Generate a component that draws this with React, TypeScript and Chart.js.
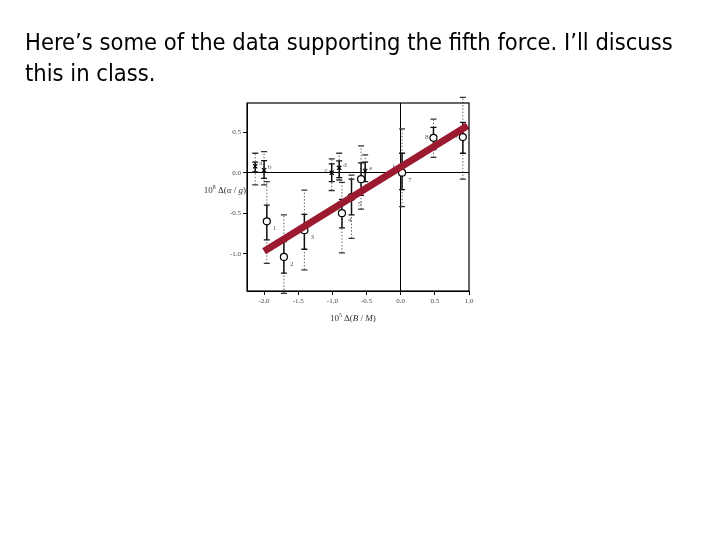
import React, { useEffect, useRef } from "react";
import { Chart, registerables } from "chart.js";

Chart.register(...registerables);

// ---- data ----
const X_TICKS = [-2.0, -1.5, -1.0, -0.5, 0.0, 0.5, 1.0];
const Y_TICKS = [-1.0, -0.5, 0.0, 0.5];

// numbered measurements (open circles)
const P_LABELS = ["1", "2", "3", "4", "5'", "", "7", "8", "9"];
const P_X = [-1.96, -1.71, -1.41, -0.86, -0.72, -0.58, 0.02, 0.48, 0.91];
const P_Y = [-0.6, -1.04, -0.71, -0.5, -0.3, -0.08, 0.0, 0.43, 0.44];
const P_SOLID_HI = [-0.4, -0.85, -0.515, -0.33, -0.08, 0.12, 0.24, 0.56, 0.62];
const P_SOLID_LO = [-0.83, -1.24, -0.945, -0.68, -0.52, -0.28, -0.21, 0.285, 0.24];
const P_DOT_HI = [-0.11, -0.52, -0.215, -0.12, -0.03, 0.33, 0.54, 0.66, 0.93];
const P_DOT_LO = [-1.12, -1.49, -1.2, -0.99, -0.81, -0.45, -0.42, 0.19, -0.08];

// lettered measurements (crosses)
const C_LABELS = ["a", "b", "c", "d", "e", "f"];
const C_X = [-2.13, -2.0, -1.01, -0.9, -0.52, -0.03];
const C_Y = [0.08, 0.03, 0.0, 0.06, 0.02, 0.03];
const C_SOLID_HI = [0.13, 0.15, 0.11, 0.145, 0.13, 0.03];
const C_SOLID_LO = [0.01, -0.07, -0.11, -0.06, -0.11, 0.03];
const C_DOT_HI = [0.24, 0.26, 0.17, 0.24, 0.22, 0.03];
const C_DOT_LO = [-0.15, -0.15, -0.22, -0.09, -0.2, 0.03];

// fitted line
const FIT_X = [-2.0, 0.98];
const FIT_Y = [-0.97, 0.58];

const LEFT_LABELS = ["c", "f", "8", "9"];

type Seg = { t: string; italic?: boolean; sup?: boolean };

function drawRich(ctx: CanvasRenderingContext2D, segs: Seg[], x: number, y: number, size: number, align: "left" | "right" | "center") {
  const fam = "'Liberation Serif', serif";
  const fontFor = (s: Seg) => `${s.italic ? "italic " : ""}${s.sup ? size * 0.65 : size}px ${fam}`;
  let total = 0;
  for (const s of segs) {
    ctx.font = fontFor(s);
    total += ctx.measureText(s.t).width;
  }
  let cx = align === "left" ? x : align === "right" ? x - total : x - total / 2;
  ctx.textAlign = "left";
  ctx.textBaseline = "alphabetic";
  for (const s of segs) {
    ctx.font = fontFor(s);
    ctx.fillText(s.t, cx, s.sup ? y - size * 0.4 : y);
    cx += ctx.measureText(s.t).width;
  }
}

const extrasPlugin = {
  id: "extras",
  beforeDatasetsDraw(chart: any) {
    const ctx: CanvasRenderingContext2D = chart.ctx;
    const xs = chart.scales.x;
    const ys = chart.scales.y;
    const bar = (x: number, lo: number, hi: number, dotted: boolean) => {
      if (lo === hi) return;
      const px = xs.getPixelForValue(x);
      const p1 = ys.getPixelForValue(lo);
      const p2 = ys.getPixelForValue(hi);
      ctx.save();
      ctx.strokeStyle = dotted ? "#666" : "#111";
      ctx.lineWidth = dotted ? 1 : 1.5;
      ctx.setLineDash(dotted ? [1.5, 1.8] : []);
      ctx.beginPath();
      ctx.moveTo(px, p1);
      ctx.lineTo(px, p2);
      ctx.stroke();
      ctx.setLineDash([]);
      ctx.strokeStyle = dotted ? "#333" : "#111";
      ctx.lineWidth = 1.3;
      const w = 3;
      ctx.beginPath();
      ctx.moveTo(px - w, p1);
      ctx.lineTo(px + w, p1);
      ctx.moveTo(px - w, p2);
      ctx.lineTo(px + w, p2);
      ctx.stroke();
      ctx.restore();
    };
    for (let i = 0; i < P_X.length; i++) {
      bar(P_X[i], P_DOT_LO[i], P_DOT_HI[i], true);
    }
    for (let i = 0; i < C_X.length; i++) {
      bar(C_X[i], C_DOT_LO[i], C_DOT_HI[i], true);
    }
    for (let i = 0; i < P_X.length; i++) {
      bar(P_X[i], P_SOLID_LO[i], P_SOLID_HI[i], false);
    }
    for (let i = 0; i < C_X.length; i++) {
      bar(C_X[i], C_SOLID_LO[i], C_SOLID_HI[i], false);
    }
    // labels
    ctx.save();
    ctx.fillStyle = "#555";
    ctx.font = "7px 'Liberation Serif', serif";
    ctx.textBaseline = "middle";
    for (let i = 0; i < P_X.length; i++) {
      const l = P_LABELS[i];
      if (!l) continue;
      const px = xs.getPixelForValue(P_X[i]);
      const py = ys.getPixelForValue(P_Y[i]);
      if (LEFT_LABELS.includes(l)) {
        ctx.textAlign = "right";
        ctx.fillText(l, px - 5, py - 1);
      } else {
        ctx.textAlign = "left";
        ctx.fillText(l, px + 6, py + 7);
      }
    }
    for (let i = 0; i < C_X.length; i++) {
      const l = C_LABELS[i];
      const px = xs.getPixelForValue(C_X[i]);
      const py = ys.getPixelForValue(C_Y[i]);
      if (LEFT_LABELS.includes(l)) {
        ctx.textAlign = "right";
        ctx.fillText(l, px - 4, py - 3);
      } else {
        ctx.textAlign = "left";
        ctx.fillText(l, px + 4, py - 3);
      }
    }
    ctx.restore();
  },
  afterDraw(chart: any) {
    const ctx: CanvasRenderingContext2D = chart.ctx;
    const a = chart.chartArea;
    ctx.save();
    ctx.strokeStyle = "#000";
    ctx.lineWidth = 1.2;
    ctx.strokeRect(a.left, a.top, a.right - a.left, a.bottom - a.top);
    ctx.fillStyle = "#333";
    drawRich(
      ctx,
      [
        { t: "10" },
        { t: "8", sup: true },
        { t: " Δ(" },
        { t: "α", italic: true },
        { t: " / " },
        { t: "g", italic: true },
        { t: ")" },
      ],
      a.left - 1,
      (chart.scales.y.getPixelForValue(0) as number) + 20,
      9,
      "right"
    );
    drawRich(
      ctx,
      [
        { t: "10" },
        { t: "5", sup: true },
        { t: " Δ(" },
        { t: "B", italic: true },
        { t: " / " },
        { t: "M", italic: true },
        { t: ")" },
      ],
      (chart.scales.x.getPixelForValue(-0.7) as number),
      a.bottom + 30,
      9,
      "center"
    );
    ctx.restore();
  },
};

const zeroGrid = (ctx: any) => (ctx.tick && Math.abs(ctx.tick.value) < 1e-9 ? "#000" : "rgba(0,0,0,0)");

export default function App() {
  const ref = useRef<HTMLCanvasElement | null>(null);
  useEffect(() => {
    if (!ref.current) return;
    const chart = new Chart(ref.current, {
      type: "scatter",
      data: {
        datasets: [
          {
            type: "line",
            data: FIT_X.map((x, i) => ({ x, y: FIT_Y[i] })),
            borderColor: "#9c1a30",
            borderWidth: 7,
            pointRadius: 0,
            borderCapStyle: "butt",
            order: 0,
          } as any,
          {
            data: P_X.map((x, i) => ({ x, y: P_Y[i] })),
            pointStyle: "circle",
            pointRadius: 3.5,
            pointBackgroundColor: "#fff",
            pointBorderColor: "#000",
            pointBorderWidth: 1.2,
            order: 1,
          },
          {
            data: C_X.map((x, i) => ({ x, y: C_Y[i] })),
            pointStyle: "crossRot",
            pointRadius: 3,
            pointBorderColor: "#000",
            pointBorderWidth: 1.2,
            order: 2,
          },
        ],
      },
      options: {
        animation: false,
        responsive: false,
        devicePixelRatio: 1,
        layout: { padding: { left: 207, top: 103, right: 251, bottom: 219 } },
        plugins: { legend: { display: false }, tooltip: { enabled: false } },
        scales: {
          x: {
            type: "linear",
            min: -2.25,
            max: 1.0,
            afterBuildTicks: (s: any) => {
              s.ticks = X_TICKS.map((v) => ({ value: v }));
            },
            afterFit: (s: any) => {
              s.height = 30;
            },
            ticks: {
              autoSkip: false,
              maxRotation: 0,
              padding: 2,
              color: "#444",
              font: { family: "'Liberation Serif', serif", size: 7 },
              callback: (v: any) => Number(v).toFixed(1),
            },
            grid: { color: zeroGrid, tickColor: "#000", tickLength: 4, lineWidth: 1 },
            border: { display: true, color: "#000", width: 1 },
          },
          y: {
            type: "linear",
            min: -1.46,
            max: 0.86,
            afterBuildTicks: (s: any) => {
              s.ticks = Y_TICKS.map((v) => ({ value: v }));
            },
            afterFit: (s: any) => {
              s.width = 40;
            },
            ticks: {
              autoSkip: false,
              padding: 2,
              color: "#444",
              font: { family: "'Liberation Serif', serif", size: 7 },
              callback: (v: any) => Number(v).toFixed(1),
            },
            grid: { color: zeroGrid, tickColor: "#000", tickLength: 4, lineWidth: 1 },
            border: { display: true, color: "#000", width: 1 },
          },
        },
      },
      plugins: [extrasPlugin],
    });
    return () => chart.destroy();
  }, []);

  return (
    <div style={{ position: "absolute", left: 0, top: 0, width: 720, height: 540, background: "#fff" }}>
      <canvas ref={ref} width={720} height={540} style={{ position: "absolute", left: 0, top: 0, width: 720, height: 540 }} />
      <div
        style={{
          position: "absolute",
          left: 25,
          top: 27,
          width: 695,
          whiteSpace: "nowrap",
          fontFamily: "'DejaVu Sans Condensed', 'DejaVu Sans', sans-serif",
          fontStretch: "condensed",
          fontSize: 23.5,
          lineHeight: "31px",
          color: "#000",
        }}
      >
        Here’s some of the data supporting the fifth force. I’ll discuss
        <br />
        this in class.
      </div>
    </div>
  );
}
